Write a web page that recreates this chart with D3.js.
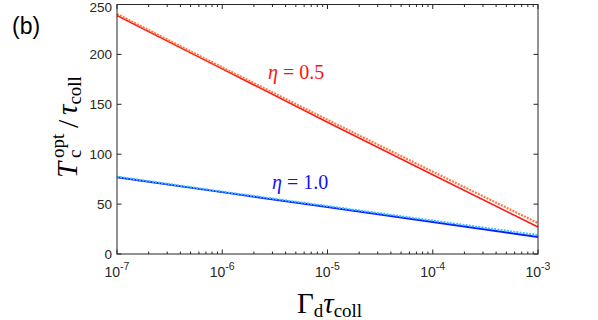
<!DOCTYPE html>
<html><head><meta charset="utf-8">
<script src="https://cdn.jsdelivr.net/npm/d3@7"></script>
<style>body{margin:0;background:#fff}svg{display:block}</style>
</head><body><svg id="c" width="598" height="320"></svg>
<script>
// ---- data ----
const xValues = [1e-7, 1e-6, 1e-5, 1e-4, 1e-3];
const eta05Solid  = [239, 185.5, 132, 79.5, 27];
const eta05Dotted = [240.5, 187, 134.5, 82.5, 31];
const eta10Solid  = [77, 62, 47, 32, 17];
const eta10Dotted = [77.5, 62.5, 48, 33.5, 19];
const yTicks = [0, 50, 100, 150, 200, 250];
const xTicks = [1e-7, 1e-6, 1e-5, 1e-4, 1e-3];
const xTickExps = ["-7", "-6", "-5", "-4", "-3"];
const seriesLabels = ["0.5", "1.0"];

const svg = d3.select("#c");
const L = 117, R = 538, T = 4.5, B = 254;
const x = d3.scaleLog().domain([1e-7, 1e-3]).range([L, R]);
const y = d3.scaleLinear().domain([0, 250]).range([B, T]);
const axisCol = "#262626";

const minor = [];
for (let e = -7; e < -3; e++) for (let k = 2; k <= 9; k++) minor.push(k * Math.pow(10, e));

const g = svg.append("g");
const line = d3.line().x((d, i) => x(xValues[i])).y(d => y(d));
function drawLine(vals, col, w, dash) {
  g.append("path").datum(vals).attr("d", line).attr("fill", "none")
    .attr("stroke", col).attr("stroke-width", w)
    .attr("stroke-dasharray", dash || null);
}
drawLine(eta10Solid, "#0a1cff", 2);
drawLine(eta10Dotted, "#3cc0ff", 2, "2,1.2");
drawLine(eta05Solid, "#ff1a1a", 1.6);
drawLine(eta05Dotted, "#ff7a40", 2.2, "2,1.2");

svg.append("rect").attr("x", L).attr("y", T).attr("width", R - L).attr("height", B - T)
  .attr("fill", "none").attr("stroke", axisCol).attr("stroke-width", 1);

xTicks.forEach(v => {
  svg.append("line").attr("x1", x(v)).attr("x2", x(v)).attr("y1", B).attr("y2", B - 4.5).attr("stroke", axisCol);
  svg.append("line").attr("x1", x(v)).attr("x2", x(v)).attr("y1", T).attr("y2", T + 4.5).attr("stroke", axisCol);
});
minor.forEach(v => {
  svg.append("line").attr("x1", x(v)).attr("x2", x(v)).attr("y1", B).attr("y2", B - 2.5).attr("stroke", axisCol);
  svg.append("line").attr("x1", x(v)).attr("x2", x(v)).attr("y1", T).attr("y2", T + 2.5).attr("stroke", axisCol);
});
yTicks.forEach(v => {
  svg.append("line").attr("x1", L).attr("x2", L + 4.5).attr("y1", y(v)).attr("y2", y(v)).attr("stroke", axisCol);
  svg.append("line").attr("x1", R).attr("x2", R - 4.5).attr("y1", y(v)).attr("y2", y(v)).attr("stroke", axisCol);
  svg.append("text").attr("x", L - 5).attr("y", Math.max(y(v) + 4.8, 12)).attr("text-anchor", "end")
    .attr("font-family", "Liberation Sans, Arial, sans-serif").attr("font-size", 13.5)
    .attr("fill", axisCol).text(v);
});
xTicks.forEach((v, i) => {
  const t = svg.append("text").attr("x", x(v)).attr("y", 277).attr("text-anchor", "middle")
    .attr("font-family", "Liberation Sans, Arial, sans-serif").attr("font-size", 14).attr("fill", axisCol);
  t.append("tspan").text("10");
  t.append("tspan").attr("dy", -7).attr("font-size", 10.5).text(xTickExps[i]);
});

svg.append("text").attr("x", 12).attr("y", 34).attr("font-family", "Liberation Sans, Arial, sans-serif")
  .attr("font-size", 23).attr("fill", "#000").text("(b)");

const serif = "Liberation Serif, DejaVu Serif, serif";
const xl = svg.append("text").attr("x", 297).attr("y", 313).attr("font-family", serif).attr("font-size", 29).attr("fill", "#000");
xl.append("tspan").text("Γ");
xl.append("tspan").attr("dy", 4).attr("font-size", 19).text("d");
xl.append("tspan").attr("dy", -4).attr("font-style", "italic").text("τ");
xl.append("tspan").attr("dy", 4).attr("font-size", 19).text("coll");

const yl = svg.append("g").attr("transform", "translate(77,178) rotate(-90)")
  .attr("font-family", serif).attr("fill", "#000");
yl.append("text").attr("x", 0).attr("y", 0).attr("font-size", 29).attr("font-style", "italic").text("T");
yl.append("text").attr("x", 20).attr("y", 4).attr("font-size", 19).text("c");
yl.append("text").attr("x", 20).attr("y", -13).attr("font-size", 19).text("opt");
yl.append("text").attr("x", 50).attr("y", 1).attr("font-size", 30).text("/");
const yl2 = yl.append("text").attr("x", 63).attr("y", 0).attr("font-size", 29);
yl2.append("tspan").attr("font-style", "italic").text("τ");
yl2.append("tspan").attr("dy", 4).attr("font-size", 19).text("coll");

function annot(xp, yp, col, val) {
  const t = svg.append("text").attr("x", xp).attr("y", yp).attr("font-family", serif)
    .attr("font-size", 20).attr("fill", col);
  t.append("tspan").attr("font-style", "italic").text("η");
  t.append("tspan").text(" = " + val);
}
annot(268, 79, "#ff1010", seriesLabels[0]);
annot(272, 189, "#1010ff", seriesLabels[1]);
</script></body></html>
